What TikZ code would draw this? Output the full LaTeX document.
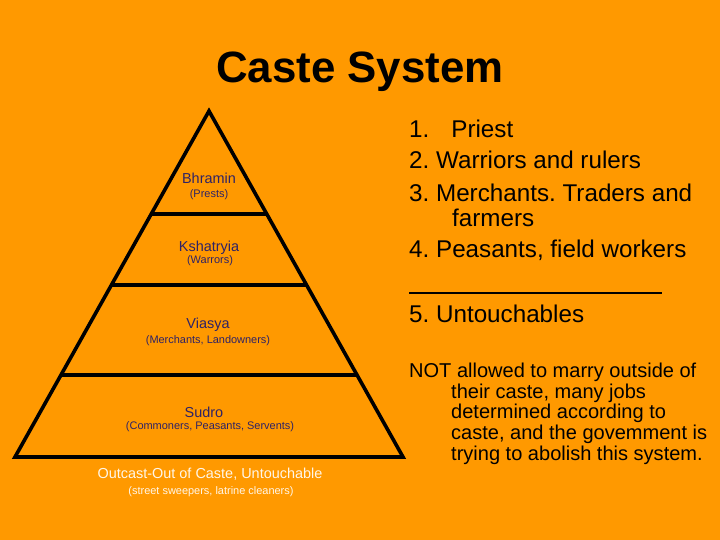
\documentclass[tikz,border=0pt]{standalone}
\usepackage{fontspec}
\setmainfont{Liberation Sans}
\frenchspacing
\definecolor{bg}{HTML}{FF9900}
\definecolor{tier}{HTML}{2E2266}
\definecolor{outc}{HTML}{FFF6E8}
\tikzset{
  line/.style={line width=3.6bp, black, line join=miter, line cap=butt},
  lab/.style={inner sep=0pt, anchor=base, text=tier, font=\fontsize{14.5}{16}\selectfont},
  sublab/.style={inner sep=0pt, anchor=base, text=tier, font=\fontsize{11}{12}\selectfont},
  listtxt/.style={inner sep=0pt, anchor=base west, text=black, font=\fontsize{24.3}{28}\selectfont},
  notetxt/.style={inner sep=0pt, anchor=base west, text=black, font=\fontsize{20.1}{22}\selectfont},
}
\begin{document}
\begin{tikzpicture}[x=1bp,y=-1bp]
\fill[bg] (0,0) rectangle (720,540);
\useasboundingbox (0,0) rectangle (720,540);
% title
\node[inner sep=0pt, anchor=base, font=\bfseries\fontsize{44}{50}\selectfont] (title) at (360,83) {Caste System};
% pyramid
\coordinate (apex) at (209,111);
\coordinate (bl) at (15,457);
\coordinate (br) at (403,457);
\draw[line] (bl) -- (apex) -- (br) -- cycle;
\draw[line] (151.2,214) -- (266.8,214);
\draw[line] (111.4,285) -- (306.6,285);
\draw[line] (61.0,375) -- (357.0,375);
% tier labels
\node[lab] (b1) at (209,184) {Bhramin};
\node[sublab] (b2) at (209,198) {(Prests)};
\node[lab] (k1) at (209,252) {Kshatryia};
\node[sublab] (k2) at (210,264) {(Warrors)};
\node[lab] (v1) at (208,328) {Viasya};
\node[sublab] (v2) at (208,343) {(Merchants, Landowners)};
\node[lab] (s1) at (204,417) {Sudro};
\node[sublab] (s2) at (210,429) {(Commoners, Peasants, Servents)};
\node[lab, text=outc] (o1) at (210,478) {Outcast-Out of Caste, Untouchable};
\node[sublab, text=outc] (o2) at (211,494) {(street sweepers, latrine cleaners)};
% list
\node[listtxt] (l1) at (409,138) {1.\hspace{22bp}Priest};
\node[listtxt] (l2) at (409,169) {2. Warriors and rulers};
\node[listtxt] (l3) at (409,202) {3. Merchants. Traders and};
\node[listtxt] (l3b) at (452,227) {farmers};
\node[listtxt] (l4) at (409,258) {4. Peasants, field workers};
\coordinate (ulA) at (409,293);
\coordinate (ulB) at (662,293);
\draw[line width=2bp] (ulA) -- (ulB);
\node[listtxt] (l5) at (409,322) {5. Untouchables};
% note
\node[notetxt] (n1) at (409,377) {NOT allowed to marry outside of};
\node[notetxt] (n2) at (451,398) {their caste, many jobs};
\node[notetxt] (n3) at (451,418) {determined according to};
\node[notetxt] (n4) at (451,439) {caste, and the govemment is};
\node[notetxt] (n5) at (451,460) {trying to abolish this system.};
\end{tikzpicture}
\end{document}
